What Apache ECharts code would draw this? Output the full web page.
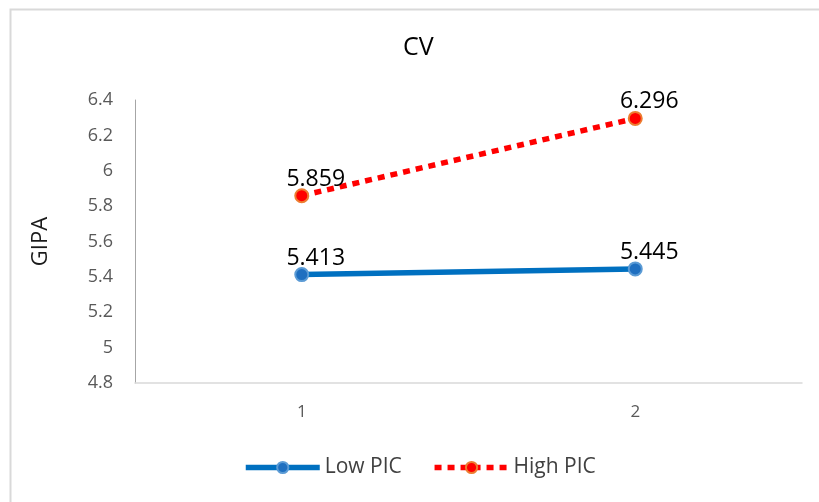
<!DOCTYPE html>
<html>
<head>
<meta charset="utf-8">
<script src="https://cdn.jsdelivr.net/npm/echarts@6/dist/echarts.min.js"></script>
<style>
  html, body { margin: 0; padding: 0; background: #fff; }
  #chart { width: 819px; height: 502px; }
</style>
</head>
<body>
<div id="chart"></div>
<script>
const categories = ['1', '2'];
const lowPIC = [5.413, 5.445];
const highPIC = [5.859, 6.296];
const yTicks = { min: 4.8, max: 6.4, step: 0.2 };

const FONT = '"Open Sans", "Noto Sans", sans-serif';
const chart = echarts.init(document.getElementById('chart'));

const valueLabel = {
  show: true, position: 'top', distance: -3, offset: [14, 0],
  fontFamily: FONT, fontSize: 23, lineHeight: 24, color: '#000',
  formatter: p => p.value.toFixed(3)
};

chart.setOption({
  backgroundColor: '#fff',
  animation: false,
  graphic: [{
    type: 'rect',
    left: 8, top: 7,
    shape: { width: 900, height: 600 },
    style: { fill: 'none', stroke: '#d9d9d9', lineWidth: 2 },
    silent: true
  }],
  title: {
    text: 'CV',
    left: 403,
    top: 35,
    padding: 0,
    textStyle: { fontFamily: FONT, fontSize: 25, fontWeight: 'normal', color: '#000' }
  },
  grid: { left: 135, right: 17, top: 100, bottom: 119 },
  xAxis: {
    type: 'category',
    data: categories,
    boundaryGap: true,
    axisLine: { lineStyle: { color: '#d9d9d9', width: 1.5 } },
    axisTick: { show: false },
    axisLabel: { margin: 21, fontFamily: FONT, fontSize: 17, color: '#595959' }
  },
  yAxis: {
    type: 'value',
    min: yTicks.min, max: yTicks.max, interval: yTicks.step,
    name: 'GIPA',
    nameLocation: 'middle',
    nameGap: 83,
    nameRotate: 90,
    nameTextStyle: { fontFamily: FONT, fontSize: 22, color: '#1a1a1a' },
    axisLine: { show: true, lineStyle: { color: '#a6a6a6', width: 1 } },
    axisTick: { show: false },
    splitLine: { show: false },
    axisLabel: {
      margin: 22, fontFamily: FONT, fontSize: 18, color: '#595959',
      formatter: v => String(parseFloat(v.toFixed(1)))
    }
  },
  legend: {
    bottom: 24,
    left: 243,
    padding: 0,
    itemWidth: 74,
    itemHeight: 14,
    itemGap: 30,
    lineStyle: { width: 5.5 },
    textStyle: { fontFamily: FONT, fontSize: 21, color: '#404040' },
    data: ['Low PIC', 'High PIC']
  },
  series: [
    {
      name: 'Low PIC',
      type: 'line',
      data: lowPIC,
      symbol: 'circle',
      symbolSize: 13,
      lineStyle: { color: '#0070c0', width: 5.5 },
      itemStyle: { color: '#1f6fc0', borderColor: '#5b9bd5', borderWidth: 2 },
      label: valueLabel
    },
    {
      name: 'High PIC',
      type: 'line',
      data: highPIC,
      symbol: 'circle',
      symbolSize: 13,
      lineStyle: { color: '#ff0000', width: 5.5, type: [7, 6] },
      itemStyle: { color: '#ff0000', borderColor: '#ed7d31', borderWidth: 2 },
      label: valueLabel
    }
  ]
});
</script>
</body>
</html>
